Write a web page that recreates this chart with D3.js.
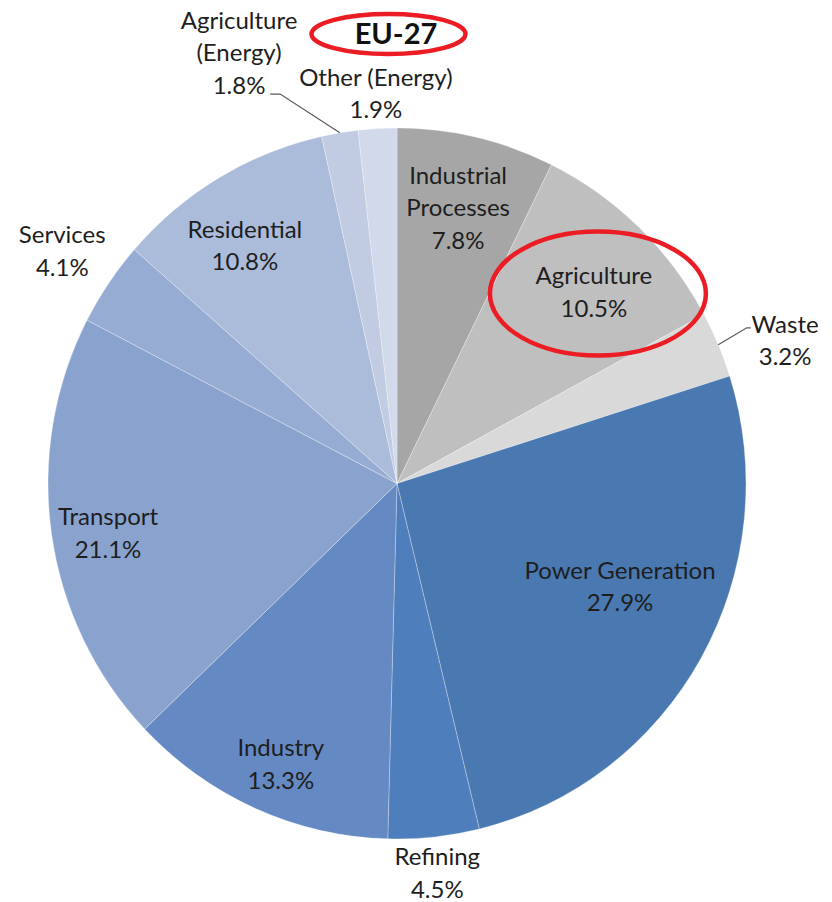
<!DOCTYPE html>
<html>
<head>
<meta charset="utf-8">
<script src="https://cdn.jsdelivr.net/npm/d3@7/dist/d3.min.js"></script>
<style>
  html, body { margin: 0; padding: 0; background: #ffffff; }
  svg { display: block; }
  text { font-family: Lato, "Open Sans", sans-serif; fill: #1e1e1e; }
</style>
</head>
<body>
<svg id="chart" width="832" height="902"></svg>
<script>
// ---- data ----
const categories = ["Industrial Processes", "Agriculture", "Waste", "Power Generation", "Refining",
  "Industry", "Transport", "Services", "Residential", "Agriculture (Energy)", "Other (Energy)"];
const values = [7.8, 10.5, 3.2, 27.9, 4.5, 13.3, 21.1, 4.1, 10.8, 1.8, 1.9];
const labelLines = [["Industrial", "Processes"], ["Agriculture"], ["Waste"], ["Power Generation"], ["Refining"],
  ["Industry"], ["Transport"], ["Services"], ["Residential"], ["Agriculture", "(Energy)"], ["Other (Energy)"]];
const colors = ["#a6a6a6", "#bfbfbf", "#d9d9d9", "#4a78b1", "#4e7ebb",
  "#6589c3", "#89a3ce", "#97acd3", "#abbcdb", "#c1cce3", "#d1d9eb"];
const title = "EU-27";

// ---- layout ----
const W = 832, H = 902;
const cx = 397, cy = 483.5, R = 349, sy = 1.0186;
// label placement: polar angle (deg, clockwise from 12 o'clock) and radius factor
const labelPolar = [[12.5, 0.809], [45.8, 0.787], [69.8, 1.185], [114.8, 0.704], [174.1, 1.122],
  [202.5, 0.870], [260.3, 0.840], [304.8, 1.168], [327.4, 0.809], [339.85, 1.314], [356.9, 1.119]];
// leader lines: category index, elbow polar, horizontal tail
const leaders = [{i: 2, a: 66.0, k: 1.097, tail: 4}, {i: 9, a: 343.3, k: 1.165, tail: -10}];
const highlight = 1; // Agriculture circled
const fontSize = 24, lineH = 32.5;

const svg = d3.select("#chart");
const pie = d3.pie().sort(null).value(d => d)(values);
const arc = d3.arc().innerRadius(0).outerRadius(R);

const g = svg.append("g").attr("transform", `translate(${cx},${cy}) scale(1,${sy})`);
g.selectAll("path.slice").data(pie).enter().append("path")
  .attr("class", "slice")
  .attr("d", arc)
  .attr("fill", (d, i) => colors[i])
  .attr("stroke", "#ffffff")
  .attr("stroke-opacity", 0.35)
  .attr("stroke-width", 0.8);

function polar(aDeg, k, s) {
  const a = aDeg * Math.PI / 180;
  return [cx + Math.sin(a) * R * k, cy - Math.cos(a) * R * k * (s || 1)];
}

// leader lines
leaders.forEach(L => {
  const d = pie[L.i];
  const mid = (d.startAngle + d.endAngle) / 2 * 180 / Math.PI;
  const p0 = polar(mid, 1.0, sy);
  const p1 = polar(L.a, L.k);
  const p2 = [p1[0] + L.tail, p1[1]];
  svg.append("path")
    .attr("d", d3.line()([p0, p1, p2]))
    .attr("fill", "none")
    .attr("stroke", "#595959")
    .attr("stroke-width", 1.2);
});

// labels
pie.forEach((d, i) => {
  const lines = labelLines[i].concat([d3.format(".1f")(values[i]) + "%"]);
  const [x, y] = polar(labelPolar[i][0], labelPolar[i][1]);
  const t = svg.append("text")
    .attr("x", x)
    .attr("text-anchor", "middle")
    .attr("font-size", fontSize);
  const n = lines.length;
  lines.forEach((s, j) => {
    t.append("tspan")
      .attr("x", x)
      .attr("y", y + (j - (n - 1) / 2) * lineH + fontSize * 0.35)
      .text(s);
  });
});

// highlight ellipse around Agriculture label
{
  const [x, y] = polar(labelPolar[highlight][0], labelPolar[highlight][1]);
  svg.append("ellipse")
    .attr("cx", x + 4).attr("cy", y + 1.5)
    .attr("rx", 108).attr("ry", 62)
    .attr("fill", "none").attr("stroke", "#ec1c24").attr("stroke-width", 4.5);
}

// title with red ellipse
svg.append("ellipse")
  .attr("cx", 388.5).attr("cy", 34)
  .attr("rx", 77).attr("ry", 20)
  .attr("fill", "none").attr("stroke", "#ec1c24").attr("stroke-width", 4.5);
svg.append("text")
  .attr("x", 396).attr("y", 44)
  .attr("text-anchor", "middle")
  .attr("font-size", 29)
  .attr("font-weight", "bold")
  .style("fill", "#111")
  .text(title);
</script>
</body>
</html>
